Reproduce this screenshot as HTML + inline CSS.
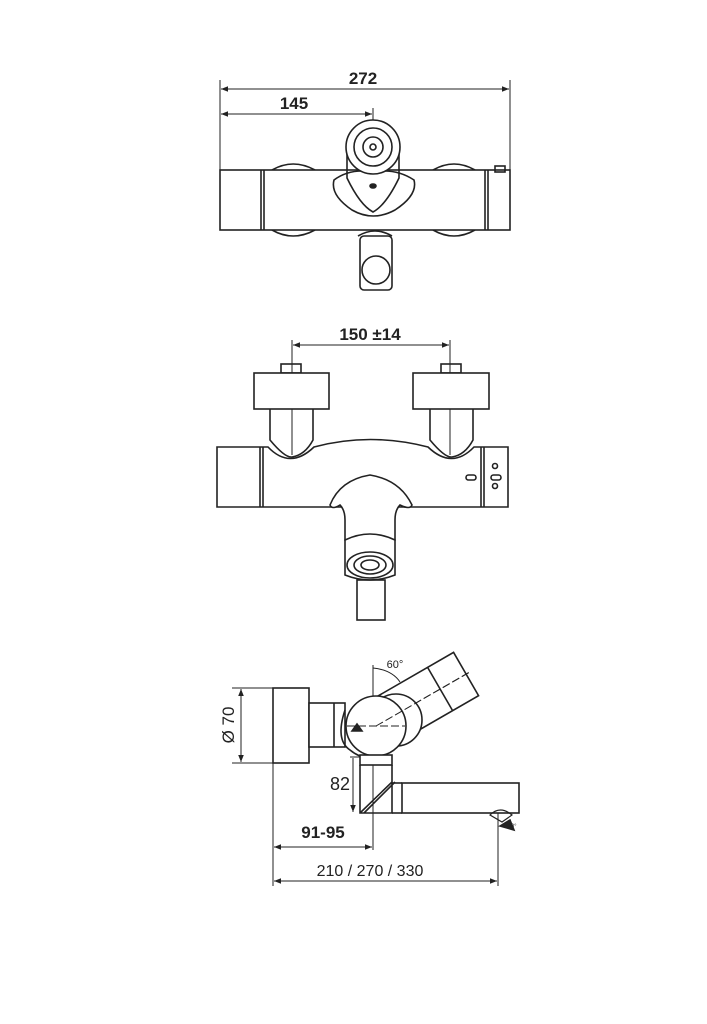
<!DOCTYPE html>
<html><head><style>body{margin:0;background:#fff}svg{display:block}text{font-family:"Liberation Sans",sans-serif;fill:#222}</style></head><body>
<svg width="707" height="1024" viewBox="0 0 707 1024" xmlns="http://www.w3.org/2000/svg">
<defs><marker id="a" viewBox="0 0 10 10" refX="10" refY="5" markerWidth="9" markerHeight="7" orient="auto-start-reverse"><path d="M0,1 L10,5 L0,9z" fill="#222"/></marker></defs>
<g fill="none" stroke="#222" stroke-width="1.6">
<g stroke-width="1"><line x1="220" y1="80" x2="220" y2="170"/><line x1="510" y1="80" x2="510" y2="170"/><line x1="373" y1="108" x2="373" y2="150"/>
<line x1="221" y1="89" x2="509" y2="89" marker-start="url(#a)" marker-end="url(#a)"/>
<line x1="221" y1="114" x2="372" y2="114" marker-start="url(#a)" marker-end="url(#a)"/></g>
<path d="M272,170 Q293,158 315,170 M433,170 Q454,158 475,170 M272,230 Q293,242 315,230 M433,230 Q454,242 475,230"/>
<rect x="220" y="170" width="290" height="60" fill="#fff"/>
<line x1="261" y1="170" x2="261" y2="230"/><line x1="264" y1="170" x2="264" y2="230"/>
<line x1="485" y1="170" x2="485" y2="230"/><line x1="488" y1="170" x2="488" y2="230"/>
<rect x="495" y="166" width="10" height="6"/>
<path d="M334,180 Q350,168 373,172 Q396,168 414,180 Q418,195 395,210 Q373,222 352,210 Q330,195 334,180z" fill="#fff"/>
<path d="M347,150 L347,178 Q360,205 373,212 Q386,205 399,178 L399,150"/>
<circle cx="373" cy="147" r="27" fill="#fff"/><circle cx="373" cy="147" r="19"/><circle cx="373" cy="147" r="10"/><circle cx="373" cy="147" r="3"/>
<ellipse cx="373" cy="186" rx="3" ry="2" fill="#222"/>
<path d="M358,236 Q375,226 392,236"/>
<rect x="360" y="236" width="32" height="54" rx="4" fill="#fff"/>
<circle cx="376" cy="270" r="14"/>
<g stroke-width="1"><line x1="292" y1="340" x2="292" y2="455"/><line x1="450" y1="340" x2="450" y2="455"/>
<line x1="293" y1="345" x2="449" y2="345" marker-start="url(#a)" marker-end="url(#a)"/></g>
<rect x="281" y="364" width="20" height="9"/><rect x="441" y="364" width="20" height="9"/>
<rect x="254" y="373" width="75" height="36" fill="#fff"/><rect x="413" y="373" width="76" height="36" fill="#fff"/>
<path d="M270,409 V440 Q285,458 292,457 Q305,455 313,440 V409"/><path d="M430,409 V440 Q445,458 452,457 Q465,455 473,440 V409"/>
<path d="M217,447 H268 Q290,470 314,447 Q370,432 428,447 Q452,470 474,447 H508 V507 H217z"/>
<line x1="260" y1="447" x2="260" y2="507"/><line x1="263" y1="447" x2="263" y2="507"/>
<line x1="481" y1="447" x2="481" y2="507"/><line x1="484" y1="447" x2="484" y2="507"/>
<rect x="466" y="475" width="10" height="5" rx="2.5"/><circle cx="495" cy="466" r="2.5"/><circle cx="495" cy="486" r="2.5"/><rect x="491" y="475" width="10" height="5" rx="2.5"/>
<path d="M330,505 Q340,480 370,475 Q400,480 412,505 Q410,510 400,505 Q395,510 395,520 V540 H345 V520 Q345,510 340,505 Q332,510 330,505z" fill="#fff"/>
<path d="M345,540 Q370,528 395,540 V575 Q370,585 345,575z" fill="#fff"/>
<ellipse cx="370" cy="565" rx="23" ry="13"/><ellipse cx="370" cy="565" rx="16" ry="9"/><ellipse cx="370" cy="565" rx="9" ry="5"/>
<rect x="357" y="580" width="28" height="40"/>
<g stroke-width="1">
<line x1="232" y1="688" x2="273" y2="688"/><line x1="232" y1="763" x2="273" y2="763"/>
<line x1="241" y1="689" x2="241" y2="762" marker-start="url(#a)" marker-end="url(#a)"/>
<line x1="273" y1="763" x2="273" y2="886"/><line x1="498" y1="805" x2="498" y2="886"/><line x1="373" y1="665" x2="373" y2="850"/>
<line x1="274" y1="847" x2="372" y2="847" marker-start="url(#a)" marker-end="url(#a)"/>
<line x1="274" y1="881" x2="497" y2="881" marker-start="url(#a)" marker-end="url(#a)"/>
<line x1="350" y1="757" x2="370" y2="757"/><line x1="353" y1="758" x2="353" y2="812" marker-end="url(#a)"/>
<path d="M373,668 Q392,670 400,682"/>
<line x1="273" y1="726" x2="420" y2="726" stroke-dasharray="8,3"/>
</g>
<rect x="273" y="688" width="36" height="75" fill="#fff"/>
<rect x="309" y="703" width="36" height="44" fill="#fff"/><line x1="334" y1="703" x2="334" y2="747"/>
<path d="M345,710 Q335,740 350,750 Q362,760 375,757"/>
<g transform="translate(376,726) rotate(-30)"><rect x="0" y="-25" width="104" height="50" fill="#fff"/><line x1="74" y1="-25" x2="74" y2="25"/><line x1="0" y1="0" x2="108" y2="0" stroke-width="1" stroke-dasharray="8,3"/></g>
<circle cx="396" cy="720" r="26" fill="#fff"/>
<circle cx="376" cy="726" r="30" fill="#fff"/>
<path d="M376,726 L470,672" stroke-width="1" stroke-dasharray="8,3"/>
<path d="M347,726 H405" stroke-width="1" stroke-dasharray="8,3"/>
<path d="M352,731 L357,724 L362,731z" fill="#222"/>
<rect x="360" y="755" width="32" height="10" fill="#fff"/>
<path d="M360,765 V813 H392 V765 M392,782 L360,813 M395,782 L364,813"/>
<rect x="402" y="783" width="117" height="30" fill="#fff"/><line x1="392" y1="783" x2="402" y2="783"/><line x1="392" y1="813" x2="402" y2="813"/>
<path d="M490,815 Q500,805 512,815 L502,822z" stroke-width="1.2"/><path d="M500,826 L510,820 L514,830z" fill="#222"/>
</g>
<text x="363" y="84" font-size="17" font-weight="bold" text-anchor="middle">272</text>
<text x="294" y="109" font-size="17" font-weight="bold" text-anchor="middle">145</text>
<text x="370" y="340" font-size="17" font-weight="bold" text-anchor="middle">150 ±14</text>
<text x="395" y="668" font-size="11" text-anchor="middle">60°</text>
<text transform="translate(234,725) rotate(-90)" font-size="17" text-anchor="middle">Ø 70</text>
<text x="340" y="790" font-size="18" text-anchor="middle">82</text>
<text x="323" y="838" font-size="17" font-weight="bold" text-anchor="middle">91-95</text>
<text x="370" y="876" font-size="16" text-anchor="middle">210 / 270 / 330</text>
<text x="512" y="828" font-size="6" text-anchor="middle">90°</text>
</svg>
</body></html>
